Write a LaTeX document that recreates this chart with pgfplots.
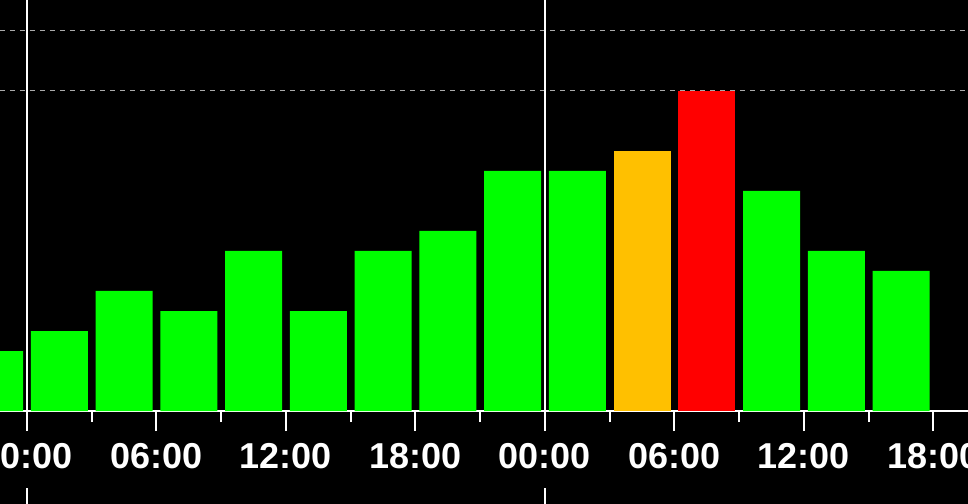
\documentclass[border=0pt]{standalone}
\usepackage{pgfplots}
\pgfplotsset{compat=1.18}
\usepackage{fontspec}
\setmainfont{Liberation Sans}

\definecolor{bargreen}{RGB}{0,255,0}
\definecolor{barorange}{RGB}{255,192,0}
\definecolor{barred}{RGB}{255,0,0}
\definecolor{gridgray}{RGB}{170,170,170}

\begin{document}
\begin{tikzpicture}
% page = 968 x 504, plot area top 411
\useasboundingbox (0,-93bp) rectangle (968bp,411bp);
\fill[black] (0,-93bp) rectangle (968bp,411bp);
\begin{axis}[
    at={(0,0)}, anchor=south west,
    width=968bp, height=411bp, scale only axis,
    xmin=-1.251, xmax=43.6,
    ymin=0, ymax=20.55,
    clip=false,
    axis x line=bottom,
    axis y line=none,
    axis line style={-, white, line width=2bp},
    xtick={0,6,...,42},
    xticklabels={00:00,06:00,12:00,18:00,00:00,06:00,12:00,18:00},
    minor x tick num=1,
    tick align=outside,
    major tick length=20bp,
    minor tick length=11bp,
    every tick/.style={white, line width=2bp},
    xticklabel style={font=\fontsize{36bp}{36bp}\selectfont\bfseries,
        text=white, anchor=north, inner sep=0pt, yshift=-12bp},
    ybar, bar width=2.64, bar shift=0pt,
]
% thresholds
\draw[gridgray, line width=1bp, dash pattern=on 5bp off 5bp]
    (axis cs:-1.251,16) -- (axis cs:43.6,16);
\draw[gridgray, line width=1bp, dash pattern=on 5bp off 5bp]
    (axis cs:-1.251,19) -- (axis cs:43.6,19);

% day boundaries
\draw[white, line width=2bp] (axis cs:0,0) -- (axis cs:0,20.55);
\draw[white, line width=2bp] (axis cs:24,0) -- (axis cs:24,20.55);
\draw[white, line width=2bp] ([yshift=-77bp]axis cs:0,0) -- ([yshift=-95bp]axis cs:0,0);
\draw[white, line width=2bp] ([yshift=-77bp]axis cs:24,0) -- ([yshift=-95bp]axis cs:24,0);

\addplot[fill=bargreen, draw=none] coordinates {
    (-1.5,3) (1.5,4) (4.5,6) (7.5,5) (10.5,8) (13.5,5) (16.5,8)
    (19.5,9) (22.5,12) (25.5,12)
    (34.5,11) (37.5,8) (40.5,7)
};
\addplot[fill=barorange, draw=none] coordinates {(28.5,13)};
\addplot[fill=barred, draw=none] coordinates {(31.5,16)};
\end{axis}
\end{tikzpicture}
\end{document}
